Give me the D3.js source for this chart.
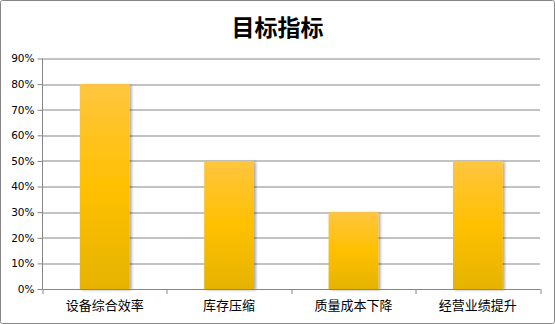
<!DOCTYPE html>
<html>
<head>
<meta charset="utf-8">
<script src="https://cdn.jsdelivr.net/npm/d3@7"></script>
<style>
  body { margin: 0; background: #fff; }
  svg { display: block; }
</style>
</head>
<body>
<div id="chart"></div>
<script>
var categories = ["设备综合效率", "库存压缩", "质量成本下降", "经营业绩提升"];
var values = [0.80, 0.50, 0.30, 0.50];
var yTicks = [0, 0.1, 0.2, 0.3, 0.4, 0.5, 0.6, 0.7, 0.8, 0.9];
var title = "目标指标";

var W = 555, H = 324;
var margin = { top: 58.5, right: 15, bottom: 35, left: 42.5 };
var width = W - margin.left - margin.right;
var height = H - margin.top - margin.bottom;

var svg = d3.select("#chart").append("svg").attr("width", W).attr("height", H);

var defs = svg.append("defs");
var grad = defs.append("linearGradient").attr("id", "barGrad")
    .attr("x1", 0).attr("y1", 0).attr("x2", 0).attr("y2", 1);
grad.append("stop").attr("offset", "0%").attr("stop-color", "#ffc53f");
grad.append("stop").attr("offset", "50%").attr("stop-color", "#ffc000");
grad.append("stop").attr("offset", "100%").attr("stop-color", "#e5b300");

var shadow = defs.append("filter").attr("id", "shadow")
    .attr("x", "-20%").attr("y", "-10%").attr("width", "150%").attr("height", "120%");
shadow.append("feGaussianBlur").attr("in", "SourceAlpha").attr("stdDeviation", 1.5);
shadow.append("feOffset").attr("dx", 2).attr("dy", 1).attr("result", "b");
shadow.append("feComponentTransfer").append("feFuncA").attr("type", "linear").attr("slope", 0.35);
var merge = shadow.append("feMerge");
merge.append("feMergeNode");
merge.append("feMergeNode").attr("in", "SourceGraphic");

svg.append("rect")
    .attr("x", 0.5).attr("y", 0.5).attr("width", W - 1).attr("height", H - 1)
    .attr("rx", 2).attr("fill", "#fff").attr("stroke", "#868686");

svg.append("text")
    .attr("x", W / 2).attr("y", 36)
    .attr("text-anchor", "middle")
    .attr("font-family", "Noto Sans CJK SC")
    .attr("font-weight", "bold")
    .attr("font-size", 23)
    .attr("fill", "#000")
    .text(title);

var g = svg.append("g").attr("transform", "translate(" + margin.left + "," + margin.top + ")");

var x = d3.scaleBand().domain(categories).range([0, width]).paddingInner(0.6).paddingOuter(0.3);
var y = d3.scaleLinear().domain([0, 0.9]).range([height, 0]);

g.append("g")
    .selectAll("line")
    .data(yTicks.slice(1))
    .enter().append("line")
    .attr("x1", 0).attr("x2", width)
    .attr("y1", function (d) { return Math.round(y(d)) + 0.5; })
    .attr("y2", function (d) { return Math.round(y(d)) + 0.5; })
    .attr("stroke", "#868686");

g.selectAll(".bar")
    .data(values)
    .enter().append("rect")
    .attr("class", "bar")
    .attr("x", function (d, i) { return x(categories[i]); })
    .attr("y", function (d) { return y(d); })
    .attr("width", x.bandwidth())
    .attr("height", function (d) { return height - y(d); })
    .attr("fill", "url(#barGrad)")
    .attr("filter", "url(#shadow)");

var yAxis = d3.axisLeft(y).tickValues(yTicks).tickFormat(d3.format(".0%")).tickSize(5).tickPadding(3);
var yg = g.append("g").call(yAxis);
yg.select(".domain").attr("stroke", "#868686").attr("d", "M0," + height + "V0");
yg.selectAll(".tick line").attr("stroke", "#868686");
yg.selectAll(".tick text")
    .attr("font-family", "DejaVu Sans")
    .attr("font-size", 10.5)
    .attr("fill", "#000");

var step = width / categories.length;
var xg = g.append("g").attr("transform", "translate(0," + height + ")");
xg.append("line").attr("x1", 0).attr("x2", width).attr("y1", 0.5).attr("y2", 0.5).attr("stroke", "#868686");
xg.selectAll(".xtick")
    .data(d3.range(categories.length + 1))
    .enter().append("line")
    .attr("x1", function (d) { return Math.round(d * step) + 0.5; })
    .attr("x2", function (d) { return Math.round(d * step) + 0.5; })
    .attr("y1", 0).attr("y2", 5)
    .attr("stroke", "#868686");
xg.selectAll(".xlabel")
    .data(categories)
    .enter().append("text")
    .attr("x", function (d) { return x(d) + x.bandwidth() / 2; })
    .attr("y", 21)
    .attr("text-anchor", "middle")
    .attr("font-family", "Noto Sans CJK SC")
    .attr("font-size", 13)
    .attr("fill", "#000")
    .text(function (d) { return d; });
</script>
</body>
</html>
